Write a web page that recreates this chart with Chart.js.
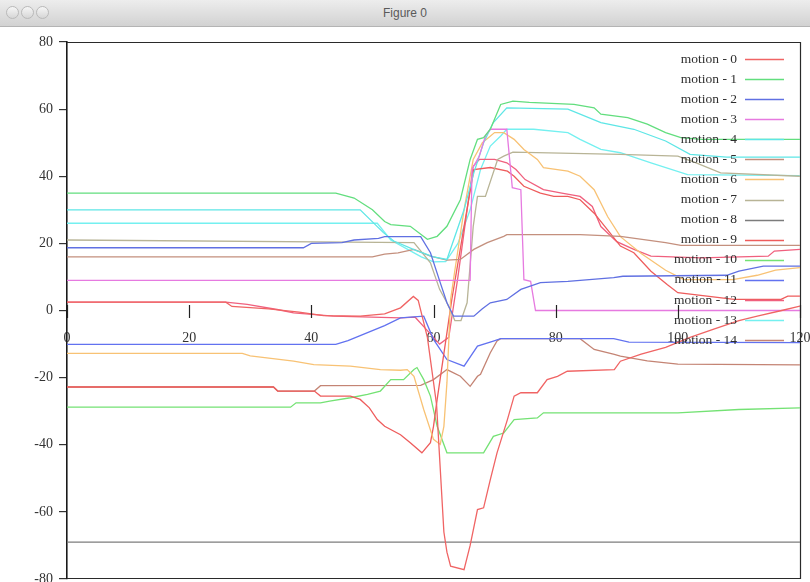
<!DOCTYPE html>
<html>
<head>
<meta charset="utf-8">
<title>Figure 0</title>
<script src="https://cdn.jsdelivr.net/npm/chart.js@4.4.0/dist/chart.umd.min.js"></script>
<style>
  html, body { margin: 0; padding: 0; background: #fff; }
  #wrap { position: relative; width: 810px; height: 582px; overflow: hidden; }
  #titlebar {
    position: absolute; left: 0; top: 0; width: 810px; height: 26px;
    background: linear-gradient(#ededed, #d2d2d2);
    border-bottom: 1px solid #b4b4b4;
    font-family: "Liberation Sans", Arial, sans-serif; font-size: 12px; color: #5a5a5a;
    text-align: center; line-height: 26px; z-index: 2;
  }
  .dot { position: absolute; top: 6px; width: 11px; height: 11px; border-radius: 50%;
         border: 1px solid #b9b9b9; background: linear-gradient(#f6f6f6, #d6d6d6); }
  #myChart { position: absolute; left: 0; top: 0; }
</style>
</head>
<body>
<div id="wrap">
  <div id="titlebar">
    <div class="dot" style="left:6px"></div>
    <div class="dot" style="left:21px"></div>
    <div class="dot" style="left:36px"></div>
    Figure 0
  </div>
  <canvas id="myChart" width="810" height="582"></canvas>
</div>
<script>
// tick values
var xTicks = [0, 20, 40, 60, 80, 100, 120];
var yTicks = [-80, -60, -40, -20, 0, 20, 40, 60, 80];

var labels = ['motion - 0', 'motion - 1', 'motion - 2', 'motion - 3', 'motion - 4',
  'motion - 5', 'motion - 6', 'motion - 7', 'motion - 8', 'motion - 9',
  'motion - 10', 'motion - 11', 'motion - 12', 'motion - 13', 'motion - 14'];

var colors = ['#f06464', '#62de7e', '#6070e2', '#e67ae0', '#5ee6e6',
  '#c4907e', '#f8c274', '#b8b496', '#7c7c7c', '#ee5c5c',
  '#74e274', '#6272f0', '#f0607e', '#74f0f0', '#c48474'];

// [x, y] pairs, one list per motion
var motion0 = [[0,2.5],[26,2.5],[27,1.2],[33,0.5],[38,-0.5],[42,-1.5],[48,-1.7],[52,-1],[54.6,0.8],[56.7,4.2],[57.5,3],[59,-8],[60.5,-28],[61.7,-66],[62.2,-72],[62.8,-76.2],[65,-77.2],[66,-70],[67.2,-59.3],[68.2,-58.8],[69.3,-50.4],[70.4,-42.4],[72.1,-32.5],[73.2,-25.5],[74.3,-24.5],[77,-24.5],[78.6,-20.6],[80.3,-19.6],[81.9,-18.1],[89.6,-17.6],[90.6,-15.1],[94,-13],[98,-11],[102,-8],[106,-5.5],[110,-3],[113,-1.7],[117,0],[120,1.3]];
var motion1 = [[0,35],[44,35],[47,33.5],[50,30],[52,26.5],[53,25.6],[56.2,25.1],[59,21.2],[60.6,22.1],[62.2,25.1],[64.4,33],[66,45],[67.2,51],[68.2,51.5],[69.3,54],[71,61.4],[73,62.4],[75.7,62],[83,61.4],[86.3,60.4],[87.4,58.5],[91.8,57.5],[95,55.5],[98,53],[100.5,51.5],[104,51],[120,51]];
var motion2 = [[0,18.7],[38.7,18.7],[40,20],[45,20.2],[47,21],[51,21.5],[52,22],[57.9,22],[59.5,17.2],[61.1,8.3],[62.2,2.3],[63.3,-1.7],[66.6,-1.7],[68,0.5],[69.3,2.3],[72,3.3],[74.3,6.3],[77.5,8.3],[82,8.7],[89.5,9.8],[91,10.2],[108,10.5],[110,11.7],[114,13.2],[120,13.2]];
var motion3 = [[0,9],[66,9],[66.3,42],[67.5,46],[68.5,52],[69.3,54],[72,54],[72.9,36.6],[74.3,36],[74.8,9.2],[75.9,8.7],[76.7,0],[120,0]];
var motion4 = [[0,30],[48,30],[51.8,23.2],[53.5,20.7],[57,18],[60,16],[62.2,15.2],[65,30],[66.6,41],[68.2,50],[69.8,56],[72,60.4],[82,60],[87.4,56],[92.8,54],[98,50.5],[102,46.5],[108,45.7],[120,45.7]];
var motion5 = [[0,16],[50,16],[52,16.8],[54.2,17.2],[56.8,18.2],[59.5,16.2],[62.2,15],[64.4,15.2],[66.6,18.2],[68.8,20.2],[71.5,22.1],[72,22.6],[84,22.6],[90.6,22.1],[98,20.2],[100.5,19.4],[120,19.4]];
var motion6 = [[0,-12.8],[28.7,-12.8],[30,-13.5],[37.1,-15.1],[40.4,-16.1],[46.4,-16.6],[51.3,-17.6],[54.6,-17.8],[55.7,-17.6],[56.8,-19.6],[58.4,-29.5],[60,-38.4],[61.1,-39.9],[61.7,-34.5],[62.2,-21.5],[62.8,3.3],[63.5,12],[65,30],[66.5,45],[68,50],[70,53],[71.5,53],[73.2,51],[74.8,48],[77,45],[78,42.6],[82,41.5],[84,40],[86.3,36],[88.5,28],[90.6,22],[94,17],[98,12],[101,9.2],[109,9.2],[113,10.5],[116,12],[120,12.8]];
var motion7 = [[0,21],[56.8,20.2],[59.5,14.2],[61,6.3],[62.2,2.3],[63.5,-3],[64.5,-3],[65.5,2.3],[66.5,25],[67.2,34],[68.5,34],[70.5,45],[71.5,46],[73,47.2],[90.6,46.5],[100,46],[103,44],[107,41],[120,40]];
var motion8 = [[0,-69],[120,-69]];
var motion9 = [[0,-22.8],[33.8,-22.8],[34.5,-24],[40.5,-24],[41.5,-25.5],[46.4,-25.5],[48,-26.5],[49.5,-29],[50.8,-32.5],[52,-34.5],[54.6,-37],[56.2,-39.4],[58.1,-42.4],[59.5,-39.4],[60,-34.5],[60.6,-26.5],[63,3.3],[65,25],[66.6,42],[69.3,42.6],[72.1,41.5],[73.2,40],[74.8,37],[77.5,35],[79.7,34],[82,34],[84,33],[86.3,29],[88.5,24],[90.6,19.2],[92.8,17.2],[95.6,11.7],[98.3,7.7],[100,5.3],[109.2,3.3],[116.9,3.3],[118,4.3],[120,4.3]];
var motion10 = [[0,-28.8],[36.6,-28.8],[37.5,-27.5],[41.5,-27.5],[43,-27],[46.4,-26],[49.2,-25],[51.3,-24],[53,-20.6],[55.1,-20.6],[56.8,-17.6],[57.3,-17],[58.4,-20.6],[59.5,-25.5],[60.6,-34.5],[62.2,-42.4],[68.2,-42.4],[69.8,-37.5],[71.5,-36.5],[73.2,-32.5],[77,-32],[78,-30.5],[100,-30.5],[110,-29.5],[120,-29]];
var motion11 = [[0,-10.1],[44,-10.1],[46,-9],[48,-7.5],[50,-6],[52,-4.5],[54.6,-2.2],[58.4,-1.7],[60,-8.6],[62.2,-14.6],[65,-16.6],[67.2,-10.6],[69.8,-9.1],[71,-8.4],[89.5,-8.4],[92,-9.4],[120,-9.6]];
var motion12 = [[0,2.5],[26,2.5],[29.5,1.8],[34.4,0.3],[37.1,-0.7],[43.6,-1.7],[54.6,-2.2],[57,-2],[59,-6],[61,-10],[62.5,-8],[64,10],[65.5,30],[66.5,43],[67.5,45],[70,45],[72,44],[73.5,42],[75,39],[78,36],[81,35],[84,34],[86,31],[87.4,25],[90,20.5],[92.8,18.2],[95.6,16.2],[103.8,15.7],[114.8,16.2],[115.8,17.7],[120,18.2]];
var motion13 = [[0,26],[50.8,26],[53,21],[56,18],[58,16],[60,14.5],[62,14.6],[64,20],[66,30],[67.7,42],[69.3,49],[71,52],[72,54],[76.4,54],[82,53],[84,51],[87.4,48],[90.6,47],[95.6,44],[101.6,40.5],[120,40.2]];
var motion14 = [[0,-22.8],[33.8,-22.8],[34.5,-24],[40.5,-24],[41.5,-22.4],[57.9,-22.3],[60,-20.6],[62.2,-17.6],[64.4,-19.6],[66,-22.6],[67.2,-19.6],[67.7,-19],[69.3,-12.6],[70.4,-9.1],[71,-8.4],[84,-8.4],[86.3,-11.6],[89.6,-13.1],[90.6,-13.6],[95,-15],[100,-16],[120,-16.2]];

var allMotions = [motion0, motion1, motion2, motion3, motion4, motion5, motion6, motion7,
  motion8, motion9, motion10, motion11, motion12, motion13, motion14];

var serif = '"Liberation Serif", "Times New Roman", serif';

// box round the plot (left side is the y axis border)
var framePlugin = {
  id: 'frame',
  beforeDatasetsDraw: function(chart) {
    var a = chart.chartArea, ctx = chart.ctx;
    ctx.save();
    ctx.strokeStyle = '#2a2a2a';
    ctx.lineWidth = 1.2;
    ctx.beginPath();
    ctx.moveTo(a.left, a.top + 0.5);
    ctx.lineTo(a.right + 0.5, a.top + 0.5);
    ctx.lineTo(a.right + 0.5, a.bottom - 0.5);
    ctx.lineTo(a.left, a.bottom - 0.5);
    ctx.stroke();
    ctx.restore();
  },
  afterDatasetsDraw: function(chart) {
    var ctx = chart.ctx, xs = chart.scales.x, ys = chart.scales.y;
    var y0 = Math.round(ys.getPixelForValue(0));
    ctx.save();
    // x ticks cross the zero line
    ctx.strokeStyle = '#222';
    ctx.lineWidth = 1.2;
    xTicks.forEach(function(v) {
      var px = Math.round(xs.getPixelForValue(v)) + 0.5;
      ctx.beginPath();
      ctx.moveTo(px, y0 - 6);
      ctx.lineTo(px, y0 + 7);
      ctx.stroke();
    });
    // legend: text on the left, line sample on the right
    ctx.font = '13.5px ' + serif;
    ctx.textAlign = 'right';
    ctx.textBaseline = 'middle';
    chart.data.datasets.forEach(function(ds, i) {
      var ty = 59 + i * 20.08;
      ctx.fillStyle = '#2e2e2e';
      ctx.fillText(ds.label, 737, ty);
      ctx.strokeStyle = ds.borderColor;
      ctx.lineWidth = 1.3;
      ctx.beginPath();
      ctx.moveTo(745, Math.round(ty) + 0.5);
      ctx.lineTo(784, Math.round(ty) + 0.5);
      ctx.stroke();
    });
    ctx.restore();
  }
};

var datasets = [];
for (var i = 0; i < allMotions.length; i++) {
  datasets.push({
    label: labels[i],
    data: allMotions[i].map(function(p) { return {x: p[0], y: p[1]}; }),
    borderColor: colors[i],
    backgroundColor: colors[i],
    borderWidth: 1.3,
    pointRadius: 0,
    tension: 0,
    fill: false
  });
}

var ctx = document.getElementById('myChart').getContext('2d');
var myChart = new Chart(ctx, {
  type: 'line',
  data: { datasets: datasets },
  options: {
    responsive: false,
    animation: false,
    events: [],
    layout: { padding: { left: 0, right: 10, top: 42, bottom: 3 } },
    plugins: { legend: { display: false }, tooltip: { enabled: false } },
    scales: {
      x: {
        type: 'linear',
        position: { y: 0 },
        min: 0, max: 120,
        grid: { display: false, drawTicks: false },
        border: { display: false },
        ticks: {
          stepSize: 20, maxRotation: 0, autoSkip: false, padding: 19,
          color: '#333', font: { family: serif, size: 14 }
        },
        afterFit: function(s) { s.paddingLeft = 0; s.paddingRight = 0; }
      },
      y: {
        type: 'linear',
        position: 'left',
        min: -80, max: 80,
        grid: { drawOnChartArea: false, drawTicks: true, tickLength: 8, color: '#333', lineWidth: 1.2 },
        border: { display: true, color: '#1a1a1a', width: 1.6 },
        ticks: {
          stepSize: 20, padding: 6,
          color: '#333', font: { family: serif, size: 14 }
        },
        afterFit: function(s) { s.width = 67; s.paddingTop = 0; s.paddingBottom = 0; }
      }
    }
  },
  plugins: [framePlugin]
});
</script>
</body>
</html>
